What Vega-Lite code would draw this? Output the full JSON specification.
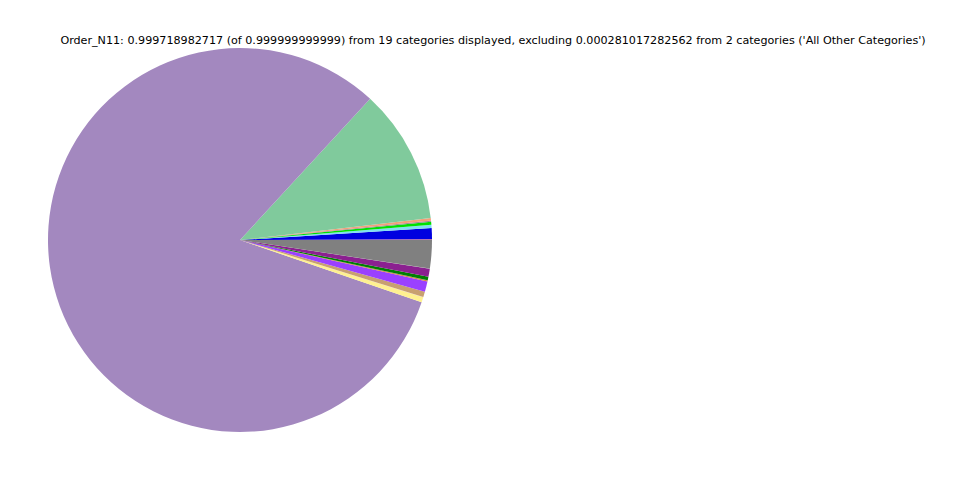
{
  "$schema": "https://vega.github.io/schema/vega-lite/v6.json",
  "width": 480,
  "height": 480,
  "autosize": "none",
  "padding": {"left": 0, "top": 0, "right": 480, "bottom": 0},
  "background": "white",
  "config": {"view": {"stroke": null}},
  "title": {
    "text": "Order_N11: 0.999718982717 (of 0.999999999999) from 19 categories displayed, excluding 0.000281017282562 from 2 categories ('All Other Categories')",
    "font": "DejaVu Sans",
    "fontSize": 11.15,
    "fontWeight": "normal",
    "color": "black",
    "anchor": "middle",
    "baseline": "alphabetic",
    "dx": 253,
    "dy": 59
  },
  "data": {
    "values": [
      {"idx": 1, "category": "C01", "value": 0.0006},
      {"idx": 2, "category": "C02", "value": 0.00933},
      {"idx": 3, "category": "C03", "value": 0.00278},
      {"idx": 4, "category": "C04", "value": 0.0025},
      {"idx": 5, "category": "C05", "value": 0.00083},
      {"idx": 6, "category": "C06", "value": 0.0001},
      {"idx": 7, "category": "C07", "value": 0.00222},
      {"idx": 8, "category": "C08", "value": 0.1131},
      {"idx": 9, "category": "C09", "value": 0.8159},
      {"idx": 10, "category": "C10", "value": 0.00439},
      {"idx": 11, "category": "C11", "value": 0.0001},
      {"idx": 12, "category": "C12", "value": 0.00456},
      {"idx": 13, "category": "C13", "value": 0.0089},
      {"idx": 14, "category": "C14", "value": 0.0008},
      {"idx": 15, "category": "C15", "value": 0.0001},
      {"idx": 16, "category": "C16", "value": 0.003},
      {"idx": 17, "category": "C17", "value": 0.00686},
      {"idx": 18, "category": "C18", "value": 0.0001},
      {"idx": 19, "category": "C19", "value": 0.02375}
    ]
  },
  "mark": {"type": "arc", "radius": 192},
  "encoding": {
    "theta": {
      "field": "value",
      "type": "quantitative",
      "stack": true,
      "scale": {"range": [1.5707963, -4.7123890]}
    },
    "order": {"field": "idx", "type": "quantitative", "sort": "ascending"},
    "color": {
      "field": "category",
      "type": "nominal",
      "legend": null,
      "scale": {
        "domain": ["C01","C02","C03","C04","C05","C06","C07","C08","C09","C10","C11","C12","C13","C14","C15","C16","C17","C18","C19"],
        "range": ["#f08080","#0000e0","#80e0f0","#00e000","#909090","#d04060","#f4a07a","#80ca9c","#a388bf","#fff190","#e0c0e0","#c8a070","#9a40ff","#e08030","#4060a0","#008000","#8b2090","#a0a0a0","#808080"]
      }
    }
  }
}
